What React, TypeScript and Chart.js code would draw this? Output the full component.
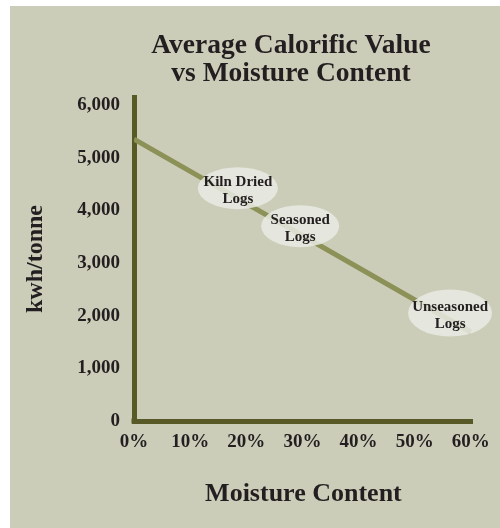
import React, { useEffect, useRef } from "react";
import { Chart, registerables } from "chart.js";

Chart.register(...registerables);

const TITLE_LINES = ["Average Calorific Value", "vs Moisture Content"];
const X_TITLE = "Moisture Content";
const Y_TITLE = "kwh/tonne";

// Straight line of calorific value vs moisture content
const MOISTURE = [0, 60];
const CALORIFIC = [5350, 1690];

// Callout labels
const LABEL_TEXT = [
  ["Kiln Dried", "Logs"],
  ["Seasoned", "Logs"],
  ["Unseasoned", "Logs"],
];
const LABEL_X = [18.5, 29.6, 56.3];
const LABEL_Y = [4420, 3700, 2050];

const X_TICKS = [0, 10, 20, 30, 40, 50, 60];
const Y_TICKS = [0, 1000, 2000, 3000, 4000, 5000, 6000];

const FONT = "'Liberation Serif', 'Times New Roman', serif";
const BG = "#cccdb9";
const AXIS = "#575a27";
const LINE = "#8b9157";
const TEXT = "#231f20";

const ELLIPSE_RX = [40, 39, 42];
const ELLIPSE_RY = [21, 21, 23.5];

const panelPlugin = {
  id: "panel",
  beforeDraw(chart: any) {
    const { ctx, width, height } = chart;
    ctx.save();
    ctx.fillStyle = "#ffffff";
    ctx.fillRect(0, 0, width, height);
    ctx.fillStyle = BG;
    ctx.fillRect(10, 6, width - 10, height - 6);
    // title
    ctx.fillStyle = TEXT;
    ctx.font = `bold 27.5px ${FONT}`;
    ctx.textAlign = "center";
    ctx.textBaseline = "middle";
    TITLE_LINES.forEach((t, i) => ctx.fillText(t, 291, 46 + i * 28));
    ctx.restore();
  },
  afterDraw(chart: any) {
    const { ctx, chartArea } = chart;
    ctx.save();
    ctx.fillStyle = AXIS;
    ctx.fillRect(chartArea.left - 2.5, chartArea.bottom - 2.5, 5, 5);
    ctx.restore();
  },
};

const calloutPlugin = {
  id: "callouts",
  afterDatasetsDraw(chart: any) {
    const { ctx, scales } = chart;
    ctx.save();
    LABEL_TEXT.forEach((lines, i) => {
      const cx = scales.x.getPixelForValue(LABEL_X[i]);
      const cy = scales.y.getPixelForValue(LABEL_Y[i]);
      ctx.beginPath();
      ctx.ellipse(cx, cy, ELLIPSE_RX[i], ELLIPSE_RY[i], 0, 0, Math.PI * 2);
      ctx.fillStyle = "rgba(233,234,227,0.85)";
      ctx.fill();
      ctx.fillStyle = TEXT;
      ctx.font = `bold 15px ${FONT}`;
      ctx.textAlign = "center";
      ctx.textBaseline = "middle";
      lines.forEach((l, j) => ctx.fillText(l, cx, cy - 6 + j * 17));
    });
    ctx.restore();
  },
};

export default function App() {
  const ref = useRef<HTMLCanvasElement>(null);
  useEffect(() => {
    if (!ref.current) return;
    const chart = new Chart(ref.current, {
      type: "line",
      data: {
        datasets: [
          {
            data: MOISTURE.map((x, i) => ({ x, y: CALORIFIC[i] })),
            borderColor: LINE,
            borderWidth: 5,
            pointRadius: 0,
            fill: false,
          },
        ],
      },
      options: {
        responsive: false,
        animation: false,
        layout: { padding: { top: 97, left: 0, right: 26, bottom: 0 } },
        plugins: {
          legend: { display: false },
          title: { display: false },
          tooltip: { enabled: false },
        },
        scales: {
          x: {
            type: "linear",
            min: 0,
            max: 60.36,
            afterFit: (s: any) => {
              s.height = 107;
            },
            afterBuildTicks: (s: any) => {
              s.ticks = X_TICKS.map((value) => ({ value }));
            },
            grid: { display: false, drawTicks: false },
            border: { display: true, color: AXIS, width: 5 },
            ticks: {
              maxRotation: 0,
              autoSkip: false,
              padding: 10,
              color: TEXT,
              font: { family: FONT, size: 19, weight: "bold" },
              callback: (v: any) => `${v}%`,
            },
            title: {
              display: true,
              text: X_TITLE,
              color: TEXT,
              font: { family: FONT, size: 26, weight: "bold" },
              padding: { top: 0, bottom: 18 },
            },
          },
          y: {
            type: "linear",
            min: 0,
            max: 6152,
            afterFit: (s: any) => {
              s.width = 134;
            },
            afterBuildTicks: (s: any) => {
              s.ticks = Y_TICKS.map((value) => ({ value }));
            },
            grid: { display: false, drawTicks: false },
            border: { display: true, color: AXIS, width: 5 },
            ticks: {
              autoSkip: false,
              padding: 14,
              color: TEXT,
              font: { family: FONT, size: 19, weight: "bold" },
              callback: (v: any) => Number(v).toLocaleString("en-US"),
            },
            title: {
              display: true,
              text: Y_TITLE,
              color: TEXT,
              font: { family: FONT, size: 24, weight: "bold" },
              padding: { top: 21.6, bottom: 0 },
            },
          },
        },
      },
      plugins: [panelPlugin, calloutPlugin],
    });
    return () => chart.destroy();
  }, []);
  return (
    <div style={{ position: "absolute", left: 0, top: 0, width: 500, height: 528 }}>
      <canvas ref={ref} width={500} height={528} />
    </div>
  );
}
